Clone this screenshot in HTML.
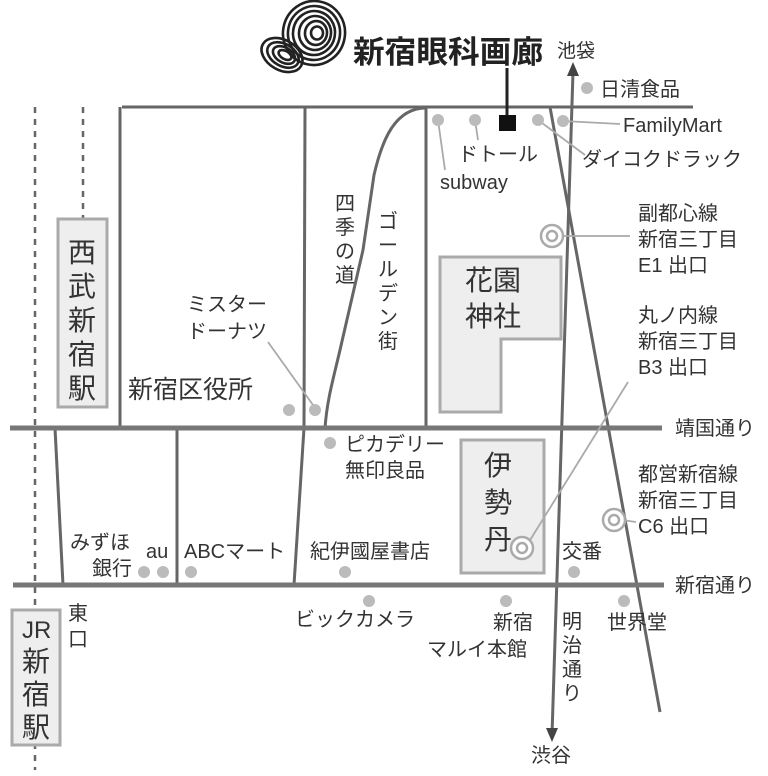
<!DOCTYPE html>
<html><head><meta charset="utf-8"><style>
html,body{margin:0;padding:0;background:#fff;}
svg{display:block;}
text{font-family:"Liberation Sans","Noto Sans CJK JP",sans-serif;fill:#333;}
</style></head><body>
<svg width="768" height="776" viewBox="0 0 768 776" xmlns="http://www.w3.org/2000/svg">
<!-- logo -->
<g fill="none" stroke="#222" stroke-width="2.6">
<ellipse cx="314" cy="33" rx="31" ry="32" transform="rotate(10 314 33)"/>
<ellipse cx="314" cy="33" rx="26" ry="27" transform="rotate(10 314 33)"/>
<ellipse cx="314" cy="33" rx="21" ry="22" transform="rotate(10 314 33)"/>
<ellipse cx="315" cy="33" rx="16" ry="17" transform="rotate(10 315 33)"/>
<ellipse cx="316" cy="33" rx="11" ry="12" transform="rotate(10 316 33)"/>
<ellipse cx="317" cy="33" rx="6" ry="6.5"/>
<ellipse cx="282" cy="55" rx="22" ry="15" transform="rotate(30 282 55)"/>
<ellipse cx="283" cy="55" rx="17" ry="11" transform="rotate(30 283 55)"/>
<ellipse cx="284" cy="55" rx="12" ry="7.5" transform="rotate(30 284 55)"/>
<ellipse cx="285" cy="55" rx="7" ry="4" transform="rotate(30 285 55)"/>
</g>
<text x="353" y="63" font-size="31" font-weight="bold" style="fill:#222" textLength="190" lengthAdjust="spacingAndGlyphs">新宿眼科画廊</text>
<text x="557" y="57" font-size="19">池袋</text>
<!-- dashed rail lines -->
<line x1="35" y1="107" x2="35" y2="770" stroke="#666" stroke-width="2.5" stroke-dasharray="6,6"/>
<line x1="83" y1="107" x2="83" y2="218" stroke="#666" stroke-width="2.5" stroke-dasharray="6,6"/>
<!-- roads -->
<g stroke="#666" stroke-width="3" fill="none">
<line x1="122" y1="107" x2="693" y2="107"/>
<line x1="120" y1="107" x2="120" y2="428"/>
<line x1="305" y1="107" x2="304" y2="428"/>
<line x1="304" y1="428" x2="294" y2="585"/>
<line x1="426" y1="107" x2="426" y2="428"/>
<path d="M426,108 C395,108 382,140 374,175 L363,250 L340,350 C333,380 327,400 325,428"/>
<line x1="55" y1="428" x2="63" y2="585"/>
<line x1="177" y1="428" x2="177" y2="585"/>
<line x1="573" y1="72" x2="552" y2="735"/>
<line x1="550" y1="107" x2="660" y2="712"/>
</g>
<polygon points="573,62 567,76 579,76" fill="#444"/>
<polygon points="552,742 546,728 558,728" fill="#444"/>
<line x1="10" y1="428" x2="662" y2="428" stroke="#777" stroke-width="5"/>
<line x1="13" y1="585" x2="664" y2="585" stroke="#777" stroke-width="5"/>
<!-- boxes -->
<rect x="58" y="219" width="49" height="188" fill="#eee" stroke="#aaa" stroke-width="3"/>
<rect x="12" y="610" width="48" height="135" fill="#eee" stroke="#aaa" stroke-width="3"/>
<polygon points="440,257 561,257 561,339 501,339 501,412 440,412" fill="#eee" stroke="#aaa" stroke-width="3"/>
<rect x="461" y="440" width="83" height="133" fill="#eee" stroke="#aaa" stroke-width="3"/>
<!-- shop -->
<line x1="507" y1="68" x2="507" y2="116" stroke="#222" stroke-width="3"/>
<rect x="499" y="115" width="17" height="16" fill="#111"/>
<!-- leader lines -->
<g stroke="#aaa" stroke-width="1.8" fill="none">
<line x1="438" y1="120" x2="445" y2="170"/>
<line x1="475" y1="120" x2="478" y2="140"/>
<line x1="538" y1="120" x2="585" y2="155"/>
<line x1="563" y1="121" x2="620" y2="124"/>
<line x1="563" y1="236" x2="630" y2="236"/>
<line x1="268" y1="342" x2="313" y2="405"/>
<line x1="527" y1="545" x2="628" y2="382"/>
<line x1="622" y1="520" x2="636" y2="522"/>
</g>
<!-- dots -->
<g fill="#bbb">
<circle cx="587" cy="88" r="6"/>
<circle cx="438" cy="120" r="6"/><circle cx="475" cy="120" r="6"/>
<circle cx="538" cy="120" r="6"/><circle cx="563" cy="121" r="6"/>
<circle cx="289" cy="410" r="6"/><circle cx="315" cy="410" r="6"/>
<circle cx="330" cy="443" r="6"/>
<circle cx="144" cy="572" r="6"/><circle cx="163" cy="572" r="6"/><circle cx="191" cy="572" r="6"/>
<circle cx="345" cy="572" r="6"/><circle cx="574" cy="572" r="6"/>
<circle cx="369" cy="601" r="6"/><circle cx="506" cy="601" r="6"/><circle cx="624" cy="601" r="6"/>
</g>
<!-- station rings -->
<g fill="#fff" stroke="#aaa" stroke-width="2.5">
<circle cx="552" cy="236" r="11"/><circle cx="552" cy="236" r="5"/>
<circle cx="614" cy="520" r="11"/><circle cx="614" cy="520" r="5"/>
<circle cx="522" cy="548" r="11"/><circle cx="522" cy="548" r="5"/>
</g>
<!-- labels -->
<g font-size="20">
<text x="600" y="96">日清食品</text>
<text x="623" y="132">FamilyMart</text>
<text x="582" y="166">ダイコクドラック</text>
<text x="458" y="161">ドトール</text>
<text x="440" y="189">subway</text>
<text x="638" y="220">副都心線</text>
<text x="638" y="246">新宿三丁目</text>
<text x="638" y="272">E1 出口</text>
<text x="638" y="322">丸ノ内線</text>
<text x="638" y="348">新宿三丁目</text>
<text x="638" y="374">B3 出口</text>
<text x="638" y="481">都営新宿線</text>
<text x="638" y="507">新宿三丁目</text>
<text x="638" y="533">C6 出口</text>
<text x="187" y="311">ミスター</text>
<text x="187" y="338">ドーナツ</text>
<text x="128" y="398" font-size="25">新宿区役所</text>
<text x="345" y="451">ピカデリー</text>
<text x="345" y="477">無印良品</text>
<text x="70" y="549">みずほ</text>
<text x="92" y="575">銀行</text>
<text x="146" y="558">au</text>
<text x="184" y="558">ABCマート</text>
<text x="310" y="558">紀伊國屋書店</text>
<text x="562" y="558">交番</text>
<text x="295" y="626">ビックカメラ</text>
<text x="493" y="629">新宿</text>
<text x="427" y="656">マルイ本館</text>
<text x="607" y="629">世界堂</text>
<text x="531" y="762">渋谷</text>
<text x="675" y="435">靖国通り</text>
<text x="675" y="592">新宿通り</text>
</g>
<g font-size="20">
<text x="68" y="620">東</text><text x="68" y="646">口</text>
<text x="562" y="628">明</text><text x="562" y="652">治</text><text x="562" y="676">通</text><text x="562" y="700">り</text>
<text x="335" y="210">四</text><text x="335" y="234">季</text><text x="335" y="258">の</text><text x="335" y="282">道</text>
<text x="378" y="228">ゴ</text><text x="378" y="252">ー</text><text x="378" y="276">ル</text><text x="378" y="300">デ</text><text x="378" y="324">ン</text><text x="378" y="348">街</text>
</g>
<g font-size="28">
<text x="68" y="262">西</text><text x="68" y="296">武</text><text x="68" y="330">新</text><text x="68" y="364">宿</text><text x="68" y="398">駅</text>
<text x="22" y="638" font-size="24">JR</text><text x="22" y="671">新</text><text x="22" y="704">宿</text><text x="22" y="737">駅</text>
<text x="465" y="290">花園</text><text x="465" y="326">神社</text>
<text x="484" y="475">伊</text><text x="484" y="512">勢</text><text x="484" y="549">丹</text>
</g>
</svg>
</body></html>
